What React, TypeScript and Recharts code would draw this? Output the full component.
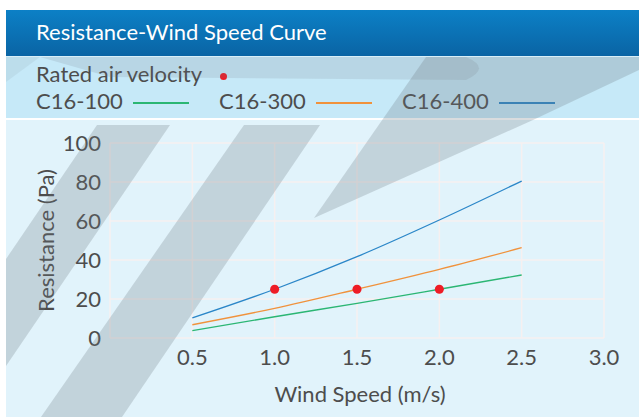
import React from 'react';
import {
  ComposedChart,
  Line,
  Scatter,
  XAxis,
  YAxis,
  CartesianGrid,
} from 'recharts';

// wind speed (m/s) -> resistance (Pa)
const windSpeeds = [0.5, 1.0, 1.5, 2.0, 2.5];
const c16_100 = [3.8, 10.9, 17.8, 25, 32.3];
const c16_300 = [6.8, 15.2, 25, 35.2, 46.3];
const c16_400 = [10.3, 25, 41.7, 60.5, 80.5];

// rated air velocity markers
const ratedSpeeds = [1.0, 1.5, 2.0];
const ratedResistance = [25, 25, 25];

const xTicks = [0, 0.5, 1.0, 1.5, 2.0, 2.5, 3.0];
const yTicks = [0, 20, 40, 60, 80, 100];

const toPoints = (ys: number[]) => windSpeeds.map((x, i) => ({ x, y: ys[i] }));
const ratedPoints = ratedSpeeds.map((x, i) => ({ x, y: ratedResistance[i] }));

const FONT = 'Lato, "Noto Sans", sans-serif';
const TEXT = '#4d4d4d';
const GREEN = '#2bb673';
const ORANGE = '#f0923c';
const BLUE = '#2a86c8';
const RED = '#ee1c25';

const series = [
  { name: 'C16-100', color: GREEN, values: c16_100 },
  { name: 'C16-300', color: ORANGE, values: c16_300 },
  { name: 'C16-400', color: BLUE, values: c16_400 },
];

function Watermark() {
  const fill = 'rgba(110,120,128,0.26)';
  return (
    <svg
      width={639}
      height={417}
      style={{ position: 'absolute', left: 0, top: 0, pointerEvents: 'none' }}
    >
      <path d="M40 57 L466 57 Q492 68 466 80 L110 77 Z" fill="rgba(110,120,128,0.16)" />
      <polygon points="97,125 170,125 6,366 6,259" fill={fill} />
      <polygon points="244,125 320,125 122,417 41,417" fill={fill} />
      <polygon points="314,218 426,57 639,57 639,70 533,120" fill={fill} />
      <polygon points="6,57 40,57 6,82" fill="rgba(110,120,128,0.10)" />
    </svg>
  );
}

export default function App() {
  return (
    <div
      style={{
        position: 'absolute',
        left: 0,
        top: 0,
        width: 639,
        height: 417,
        background: '#fff',
        fontFamily: FONT,
        overflow: 'hidden',
      }}
    >
      {/* title bar */}
      <div
        style={{
          position: 'absolute',
          left: 6,
          top: 10,
          width: 633,
          height: 46,
          background: 'linear-gradient(180deg, #0c80c6 0%, #0a64a4 100%)',
          color: '#fff',
          fontSize: 22,
          lineHeight: '44px',
          paddingLeft: 30,
          boxSizing: 'border-box',
        }}
      >
        Resistance-Wind Speed Curve
      </div>
      <div style={{ position: 'absolute', left: 6, top: 56, width: 633, height: 1, background: '#d8eef8' }} />

      {/* legend strip */}
      <div
        style={{
          position: 'absolute',
          left: 6,
          top: 57,
          width: 633,
          height: 61,
          background: '#c6e9f8',
          color: TEXT,
          fontSize: 22,
        }}
      >
        <div style={{ position: 'absolute', left: 30, top: 4, lineHeight: '26px', whiteSpace: 'nowrap' }}>
          Rated air velocity
          <span
            style={{
              display: 'inline-block',
              width: 7,
              height: 7,
              borderRadius: '50%',
              background: RED,
              marginLeft: 18,
              verticalAlign: 'middle',
            }}
          />
        </div>
        {series.map((s, i) => (
          <div
            key={s.name}
            style={{
              position: 'absolute',
              left: 30 + i * 183,
              top: 31,
              lineHeight: '26px',
              whiteSpace: 'nowrap',
            }}
          >
            {s.name}
            <span
              style={{
                display: 'inline-block',
                width: 56,
                height: 2,
                background: s.color,
                marginLeft: 10,
                verticalAlign: 'middle',
              }}
            />
          </div>
        ))}
      </div>
      <div style={{ position: 'absolute', left: 6, top: 118, width: 633, height: 2, background: '#fff' }} />

      {/* chart area */}
      <div style={{ position: 'absolute', left: 6, top: 120, width: 633, height: 297, background: '#e1f3fb' }}>
        <ComposedChart width={633} height={297} margin={{ top: 23, right: 35, bottom: 0, left: 0 }}>
          <CartesianGrid stroke="#f6f0f0" strokeWidth={1.5} />
          <XAxis
            type="number"
            dataKey="x"
            domain={[0, 3]}
            ticks={xTicks}
            tickFormatter={(v: number) => (v === 0 ? '' : v.toFixed(1))}
            axisLine={false}
            tickLine={false}
            tickSize={0}
            tickMargin={11}
            height={79}
            tick={{ fill: TEXT, fontSize: 22, fontFamily: FONT }}
            label={{
              content: ({ viewBox }: any) => (
                <text
                  x={viewBox.x + viewBox.width / 2 + 3}
                  y={viewBox.y + 55}
                  textAnchor="middle"
                  dominantBaseline="central"
                  fill={TEXT}
                  fontSize={22}
                  fontFamily={FONT}
                >
                  Wind Speed (m/s)
                </text>
              ),
            }}
          />
          <YAxis
            type="number"
            domain={[0, 100]}
            ticks={yTicks}
            axisLine={false}
            tickLine={false}
            tickSize={0}
            tickMargin={9}
            width={104}
            tick={{ fill: TEXT, fontSize: 22, fontFamily: FONT }}
            label={{
              content: ({ viewBox }: any) => {
                const cx = viewBox.x + 39;
                const cy = viewBox.y + viewBox.height / 2;
                return (
                  <text
                    x={cx}
                    y={cy}
                    transform={`rotate(-90 ${cx} ${cy})`}
                    textAnchor="middle"
                    dominantBaseline="central"
                    fill={TEXT}
                    fontSize={22}
                    fontFamily={FONT}
                  >
                    Resistance (Pa)
                  </text>
                );
              },
            }}
          />
          {series.map((s) => (
            <Line
              key={s.name}
              data={toPoints(s.values)}
              dataKey="y"
              type="monotone"
              stroke={s.color}
              strokeWidth={1.3}
              dot={false}
              activeDot={false}
              isAnimationActive={false}
            />
          ))}
          <Scatter data={ratedPoints} dataKey="y" fill={RED} shape="circle" isAnimationActive={false} />
        </ComposedChart>
      </div>

      <Watermark />
    </div>
  );
}
